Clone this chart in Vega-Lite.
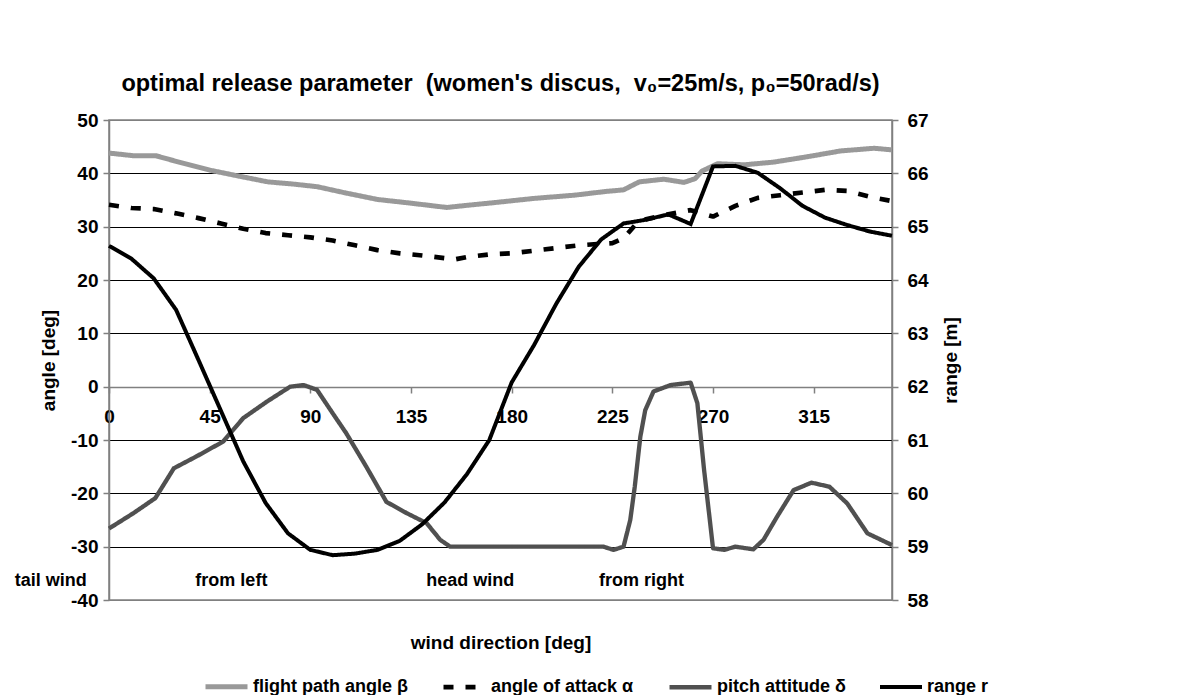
{
  "$schema": "https://vega.github.io/schema/vega-lite/v6.json",
  "width": 783,
  "height": 480,
  "autosize": "none",
  "padding": {"left": 109, "top": 120, "right": 303, "bottom": 95},
  "background": "white",
  "config": {
    "font": "Liberation Sans",
    "view": {"stroke": "#808080", "strokeWidth": 1.5},
    "axis": {"labelFont": "Liberation Sans", "labelFontWeight": "bold", "labelFontSize": 19, "labelColor": "black", "titleFont": "Liberation Sans", "titleFontWeight": "bold", "titleFontSize": 19, "titleColor": "black", "domainColor": "#808080", "domainWidth": 1.5, "tickColor": "#808080", "tickWidth": 1.5, "labelExpr": "'' + datum.value"},
    "legend": {"labelFont": "Liberation Sans", "labelFontWeight": "bold", "labelFontSize": 18, "labelColor": "black", "labelLimit": 400}
  },
  "title": {"text": "optimal release parameter \u00a0(women's discus, \u00a0v₀=25m/s, p₀=50rad/s)", "font": "Liberation Sans", "fontSize": 23.5, "fontWeight": "bold", "color": "black", "anchor": "middle", "offset": 16},
  "datasets": {
    "lines": [
      {"series": "flight path angle β", "dir": 0, "value": 43.8},
      {"series": "flight path angle β", "dir": 11, "value": 43.3},
      {"series": "flight path angle β", "dir": 21, "value": 43.3},
      {"series": "flight path angle β", "dir": 33, "value": 41.9},
      {"series": "flight path angle β", "dir": 45, "value": 40.6},
      {"series": "flight path angle β", "dir": 59, "value": 39.4},
      {"series": "flight path angle β", "dir": 71, "value": 38.4},
      {"series": "flight path angle β", "dir": 82, "value": 38.0},
      {"series": "flight path angle β", "dir": 93, "value": 37.5},
      {"series": "flight path angle β", "dir": 106, "value": 36.3},
      {"series": "flight path angle β", "dir": 120, "value": 35.1},
      {"series": "flight path angle β", "dir": 133, "value": 34.5},
      {"series": "flight path angle β", "dir": 145, "value": 33.9},
      {"series": "flight path angle β", "dir": 151, "value": 33.6},
      {"series": "flight path angle β", "dir": 160, "value": 34.0},
      {"series": "flight path angle β", "dir": 172, "value": 34.5},
      {"series": "flight path angle β", "dir": 190, "value": 35.3},
      {"series": "flight path angle β", "dir": 208, "value": 35.9},
      {"series": "flight path angle β", "dir": 222, "value": 36.6},
      {"series": "flight path angle β", "dir": 230, "value": 36.9},
      {"series": "flight path angle β", "dir": 237, "value": 38.4},
      {"series": "flight path angle β", "dir": 248, "value": 38.9},
      {"series": "flight path angle β", "dir": 257, "value": 38.3},
      {"series": "flight path angle β", "dir": 262, "value": 39.0},
      {"series": "flight path angle β", "dir": 265, "value": 40.4},
      {"series": "flight path angle β", "dir": 272, "value": 41.8},
      {"series": "flight path angle β", "dir": 284, "value": 41.6},
      {"series": "flight path angle β", "dir": 297, "value": 42.1},
      {"series": "flight path angle β", "dir": 312, "value": 43.1},
      {"series": "flight path angle β", "dir": 327, "value": 44.2},
      {"series": "flight path angle β", "dir": 342, "value": 44.7},
      {"series": "flight path angle β", "dir": 350, "value": 44.4},
      {"series": "angle of attack α", "dir": 0, "value": 34.1},
      {"series": "angle of attack α", "dir": 10, "value": 33.5},
      {"series": "angle of attack α", "dir": 20, "value": 33.3},
      {"series": "angle of attack α", "dir": 30, "value": 32.5},
      {"series": "angle of attack α", "dir": 40, "value": 31.6},
      {"series": "angle of attack α", "dir": 50, "value": 30.6},
      {"series": "angle of attack α", "dir": 60, "value": 29.6},
      {"series": "angle of attack α", "dir": 70, "value": 28.8},
      {"series": "angle of attack α", "dir": 80, "value": 28.4},
      {"series": "angle of attack α", "dir": 90, "value": 28.0},
      {"series": "angle of attack α", "dir": 100, "value": 27.4},
      {"series": "angle of attack α", "dir": 110, "value": 26.5},
      {"series": "angle of attack α", "dir": 120, "value": 25.6},
      {"series": "angle of attack α", "dir": 130, "value": 25.0},
      {"series": "angle of attack α", "dir": 140, "value": 24.6},
      {"series": "angle of attack α", "dir": 150, "value": 24.1},
      {"series": "angle of attack α", "dir": 155, "value": 23.9},
      {"series": "angle of attack α", "dir": 160, "value": 24.3},
      {"series": "angle of attack α", "dir": 170, "value": 24.8},
      {"series": "angle of attack α", "dir": 180, "value": 25.0},
      {"series": "angle of attack α", "dir": 190, "value": 25.5},
      {"series": "angle of attack α", "dir": 200, "value": 26.0},
      {"series": "angle of attack α", "dir": 210, "value": 26.5},
      {"series": "angle of attack α", "dir": 220, "value": 26.8},
      {"series": "angle of attack α", "dir": 225, "value": 26.9},
      {"series": "angle of attack α", "dir": 230, "value": 27.8},
      {"series": "angle of attack α", "dir": 235, "value": 30.2},
      {"series": "angle of attack α", "dir": 240, "value": 31.4},
      {"series": "angle of attack α", "dir": 250, "value": 32.3},
      {"series": "angle of attack α", "dir": 260, "value": 33.1},
      {"series": "angle of attack α", "dir": 265, "value": 32.5},
      {"series": "angle of attack α", "dir": 270, "value": 31.9},
      {"series": "angle of attack α", "dir": 280, "value": 33.9},
      {"series": "angle of attack α", "dir": 290, "value": 35.4},
      {"series": "angle of attack α", "dir": 300, "value": 35.9},
      {"series": "angle of attack α", "dir": 310, "value": 36.4},
      {"series": "angle of attack α", "dir": 320, "value": 36.9},
      {"series": "angle of attack α", "dir": 330, "value": 36.7},
      {"series": "angle of attack α", "dir": 340, "value": 35.6},
      {"series": "angle of attack α", "dir": 350, "value": 34.8},
      {"series": "pitch attitude δ", "dir": 0, "value": -26.6},
      {"series": "pitch attitude δ", "dir": 11, "value": -23.7},
      {"series": "pitch attitude δ", "dir": 20.7, "value": -20.9},
      {"series": "pitch attitude δ", "dir": 29, "value": -15.3},
      {"series": "pitch attitude δ", "dir": 39, "value": -13.1},
      {"series": "pitch attitude δ", "dir": 51, "value": -10.3},
      {"series": "pitch attitude δ", "dir": 60, "value": -5.9},
      {"series": "pitch attitude δ", "dir": 70.6, "value": -2.8},
      {"series": "pitch attitude δ", "dir": 81, "value": 0.0},
      {"series": "pitch attitude δ", "dir": 87, "value": 0.3},
      {"series": "pitch attitude δ", "dir": 93, "value": -0.6},
      {"series": "pitch attitude δ", "dir": 100, "value": -5.0},
      {"series": "pitch attitude δ", "dir": 106, "value": -8.7},
      {"series": "pitch attitude δ", "dir": 115, "value": -15.0},
      {"series": "pitch attitude δ", "dir": 124, "value": -21.6},
      {"series": "pitch attitude δ", "dir": 133, "value": -23.7},
      {"series": "pitch attitude δ", "dir": 142, "value": -25.6},
      {"series": "pitch attitude δ", "dir": 148, "value": -28.7},
      {"series": "pitch attitude δ", "dir": 152.5, "value": -30.0},
      {"series": "pitch attitude δ", "dir": 221, "value": -30.0},
      {"series": "pitch attitude δ", "dir": 225.5, "value": -30.6},
      {"series": "pitch attitude δ", "dir": 230, "value": -30.0},
      {"series": "pitch attitude δ", "dir": 233, "value": -25.0},
      {"series": "pitch attitude δ", "dir": 235, "value": -18.8},
      {"series": "pitch attitude δ", "dir": 237.5, "value": -9.4},
      {"series": "pitch attitude δ", "dir": 239.7, "value": -4.4},
      {"series": "pitch attitude δ", "dir": 243.4, "value": -0.9},
      {"series": "pitch attitude δ", "dir": 251, "value": 0.3},
      {"series": "pitch attitude δ", "dir": 260, "value": 0.75},
      {"series": "pitch attitude δ", "dir": 263, "value": -3.1},
      {"series": "pitch attitude δ", "dir": 266, "value": -15.6},
      {"series": "pitch attitude δ", "dir": 270, "value": -30.3},
      {"series": "pitch attitude δ", "dir": 275, "value": -30.6},
      {"series": "pitch attitude δ", "dir": 280, "value": -30.0},
      {"series": "pitch attitude δ", "dir": 288, "value": -30.5},
      {"series": "pitch attitude δ", "dir": 292.6, "value": -28.7},
      {"series": "pitch attitude δ", "dir": 298.6, "value": -24.4},
      {"series": "pitch attitude δ", "dir": 306, "value": -19.4},
      {"series": "pitch attitude δ", "dir": 314, "value": -18.0},
      {"series": "pitch attitude δ", "dir": 322, "value": -18.75},
      {"series": "pitch attitude δ", "dir": 330, "value": -21.9},
      {"series": "pitch attitude δ", "dir": 339, "value": -27.5},
      {"series": "pitch attitude δ", "dir": 350, "value": -29.7},
      {"series": "range r", "dir": 0, "value": 64.64},
      {"series": "range r", "dir": 10, "value": 64.40},
      {"series": "range r", "dir": 20, "value": 64.03},
      {"series": "range r", "dir": 30, "value": 63.44},
      {"series": "range r", "dir": 40, "value": 62.5},
      {"series": "range r", "dir": 50, "value": 61.55},
      {"series": "range r", "dir": 60, "value": 60.6},
      {"series": "range r", "dir": 70, "value": 59.82},
      {"series": "range r", "dir": 80, "value": 59.25},
      {"series": "range r", "dir": 90, "value": 58.94},
      {"series": "range r", "dir": 100, "value": 58.84},
      {"series": "range r", "dir": 110, "value": 58.87},
      {"series": "range r", "dir": 120, "value": 58.94},
      {"series": "range r", "dir": 130, "value": 59.11},
      {"series": "range r", "dir": 140, "value": 59.42},
      {"series": "range r", "dir": 150, "value": 59.83},
      {"series": "range r", "dir": 160, "value": 60.36},
      {"series": "range r", "dir": 170, "value": 61.0},
      {"series": "range r", "dir": 180, "value": 62.08},
      {"series": "range r", "dir": 190, "value": 62.78},
      {"series": "range r", "dir": 200, "value": 63.56},
      {"series": "range r", "dir": 210, "value": 64.25},
      {"series": "range r", "dir": 220, "value": 64.76},
      {"series": "range r", "dir": 230, "value": 65.06},
      {"series": "range r", "dir": 240, "value": 65.13},
      {"series": "range r", "dir": 250, "value": 65.23},
      {"series": "range r", "dir": 260, "value": 65.05},
      {"series": "range r", "dir": 270, "value": 66.13},
      {"series": "range r", "dir": 280, "value": 66.14},
      {"series": "range r", "dir": 290, "value": 66.01},
      {"series": "range r", "dir": 300, "value": 65.72},
      {"series": "range r", "dir": 310, "value": 65.39},
      {"series": "range r", "dir": 320, "value": 65.17},
      {"series": "range r", "dir": 330, "value": 65.03},
      {"series": "range r", "dir": 340, "value": 64.91},
      {"series": "range r", "dir": 350, "value": 64.83}
    ],
    "notes": [
      {"label": "tail wind", "dir": -26, "value": -36.5},
      {"label": "from left", "dir": 54.7, "value": -36.5},
      {"label": "head wind", "dir": 161.5, "value": -36.5},
      {"label": "from right", "dir": 238, "value": -36.5}
    ]
  },
  "layer": [
    {
      "layer": [
        {
          "data": {"name": "lines"},
          "transform": [{"filter": "datum.series !== 'range r'"}],
          "mark": {"type": "line", "strokeCap": "butt", "strokeJoin": "round"},
          "encoding": {
            "color": {"field": "series", "type": "nominal", "scale": {"domain": ["flight path angle β", "angle of attack α", "pitch attitude δ", "range r"], "range": ["#999999", "#000000", "#505050", "#000000"]},
              "legend": {"title": null, "orient": "none", "direction": "horizontal", "legendX": 94, "legendY": 543, "symbolType": "stroke", "symbolSize": 1764, "columnPadding": 26, "labelOffset": 3, "padding": 0}},
            "strokeDash": {"field": "series", "type": "nominal", "scale": {"domain": ["flight path angle β", "angle of attack α", "pitch attitude δ", "range r"], "range": [[1, 0], [10, 12], [1, 0], [1, 0]]}},
            "strokeWidth": {"field": "series", "type": "nominal", "scale": {"domain": ["flight path angle β", "angle of attack α", "pitch attitude δ", "range r"], "range": [5, 4, 4, 3.5]}}
          }
        },
        {
          "data": {"name": "notes"},
          "mark": {"type": "text", "font": "Liberation Sans", "fontWeight": "bold", "fontSize": 18, "align": "center", "baseline": "middle", "color": "black"},
          "encoding": {
            "text": {"field": "label", "type": "nominal"}
          }
        }
      ],
      "encoding": {
        "x": {"field": "dir", "type": "quantitative", "scale": {"domain": [0, 350], "nice": false, "zero": false},
          "axis": {"values": [0, 45, 90, 135, 180, 225, 270, 315], "offset": -213, "tickSize": 6, "labelPadding": 14, "labelFlush": false, "labelOverlap": false, "grid": false, "title": "wind direction [deg]", "titleBaseline": "middle", "titleY": 255}},
        "y": {"field": "value", "type": "quantitative", "scale": {"domain": [-40, 50], "nice": false, "zero": false},
          "axis": {"values": [-40, -30, -20, -10, 0, 10, 20, 30, 40, 50], "grid": true, "gridColor": {"condition": {"test": "datum.value === 0 || datum.value === 50 || datum.value === -40", "value": "#808080"}, "value": "black"}, "gridWidth": 1, "tickSize": 6, "labelPadding": 5, "title": "angle [deg]", "titlePadding": 12}}
      }
    },
    {
      "data": {"name": "lines"},
      "transform": [{"filter": "datum.series === 'range r'"}],
      "mark": {"type": "line", "strokeCap": "butt", "strokeJoin": "miter"},
      "encoding": {
        "x": {"field": "dir", "type": "quantitative", "scale": {"domain": [0, 350], "nice": false, "zero": false},
          "axis": {"values": [0, 45, 90, 135, 180, 225, 270, 315], "offset": -213, "tickSize": 6, "labelPadding": 14, "labelFlush": false, "labelOverlap": false, "grid": false, "title": "wind direction [deg]", "titleBaseline": "middle", "titleY": 255}},
        "y": {"field": "value", "type": "quantitative", "scale": {"domain": [58, 67], "nice": false, "zero": false},
          "axis": {"orient": "right", "values": [58, 59, 60, 61, 62, 63, 64, 65, 66, 67], "grid": false, "tickSize": 6, "labelPadding": 9, "title": "range [m]", "titleAngle": 270, "titlePadding": 32}},
        "color": {"field": "series", "type": "nominal"},
        "strokeDash": {"field": "series", "type": "nominal"},
        "strokeWidth": {"field": "series", "type": "nominal"}
      }
    }
  ],
  "resolve": {"scale": {"y": "independent"}}
}
